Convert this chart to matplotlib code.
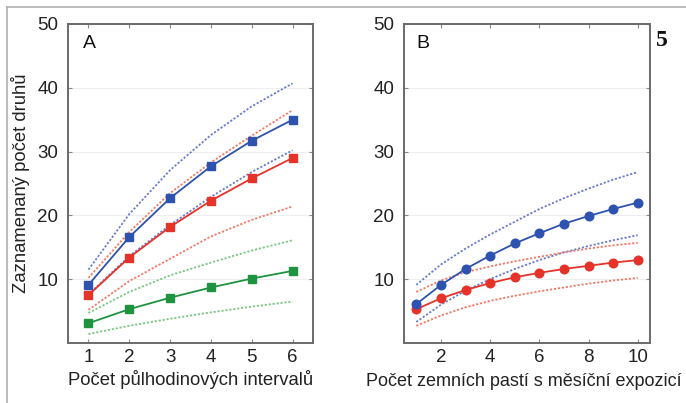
import matplotlib
matplotlib.use("Agg")
import matplotlib.pyplot as plt
from matplotlib.lines import Line2D
from matplotlib.font_manager import FontProperties

plt.rcParams['font.family'] = ['Liberation Sans', 'DejaVu Sans']

# Panel A data
xa = [1, 2, 3, 4, 5, 6]
a_blue = [9.1, 16.6, 22.7, 27.7, 31.7, 35.0]
a_blue_hi = [11.5, 20.2, 27.1, 32.6, 37.1, 40.7]
a_blue_lo = [7.6, 13.6, 18.5, 22.9, 26.8, 30.2]
a_red = [7.5, 13.4, 18.2, 22.3, 25.8, 29.0]
a_red_hi = [10.2, 17.4, 23.5, 28.3, 32.5, 36.5]
a_red_lo = [5.2, 9.7, 13.2, 16.7, 19.3, 21.4]
a_green = [3.1, 5.3, 7.1, 8.7, 10.1, 11.3]
a_green_hi = [4.7, 8.0, 10.6, 12.6, 14.5, 16.1]
a_green_lo = [1.4, 2.7, 3.8, 4.8, 5.7, 6.5]

# Panel B data
xb = [1, 2, 3, 4, 5, 6, 7, 8, 9, 10]
b_blue = [6.1, 9.1, 11.6, 13.7, 15.6, 17.2, 18.7, 19.9, 21.0, 22.0]
b_blue_hi = [9.1, 12.3, 14.8, 17.0, 19.0, 21.0, 22.7, 24.2, 25.6, 26.8]
b_blue_lo = [3.3, 6.0, 8.2, 10.0, 11.6, 13.0, 14.2, 15.2, 16.1, 16.9]
b_red = [5.3, 7.0, 8.3, 9.4, 10.3, 11.0, 11.6, 12.1, 12.6, 13.0]
b_red_hi = [8.0, 9.8, 11.1, 12.0, 12.8, 13.5, 14.2, 14.8, 15.3, 15.7]
b_red_lo = [2.7, 4.3, 5.6, 6.6, 7.4, 8.1, 8.7, 9.3, 9.8, 10.2]

yticks = [10, 20, 30, 40, 50]
xticks_a = [1, 2, 3, 4, 5, 6]
xticks_b = [2, 4, 6, 8, 10]

BLUE = '#2d52b0'
RED = '#e5332a'
GREEN = '#1e9440'
BLUE_D = '#6a7ccc'
RED_D = '#f07a66'
GREEN_D = '#7cc583'

fig = plt.figure(figsize=(6.86, 4.03), dpi=100)
fig.patch.set_facecolor('white')

# figure border lines
fig.add_artist(Line2D([7/686, 7/686], [0, 1-7/403], transform=fig.transFigure, color='#b0b0b0', lw=1.2))
fig.add_artist(Line2D([7/686, 1], [1-7/403, 1-7/403], transform=fig.transFigure, color='#b0b0b0', lw=1.2))

axA = fig.add_axes([68/686, 60/403, 245/686, 319/403])
axB = fig.add_axes([404/686, 60/403, 246/686, 319/403])

def style(ax, xlim, xticks):
    ax.set_xlim(*xlim)
    ax.set_ylim(0, 50)
    ax.set_yticks(yticks)
    ax.set_xticks(xticks)
    ax.tick_params(direction='in', top=True, right=True, length=3, color='#888888',
                   labelsize=13.5, labelcolor='#222222')
    ax.tick_params(axis='y', pad=7)
    ax.tick_params(axis='x', pad=4)
    for s in ax.spines.values():
        s.set_color('#6a6a6a')
        s.set_linewidth(1.4)
    ax.grid(axis='y', color='#eeeeee', lw=0.8)
    ax.set_axisbelow(True)

style(axA, (0.5, 6.5), xticks_a)
style(axB, (0.5, 10.5), xticks_b)

dot = dict(ls=(0, (1.2, 1.0)), lw=1.3)
axA.plot(xa, a_blue_hi, color=BLUE_D, **dot)
axA.plot(xa, a_blue_lo, color=BLUE_D, **dot)
axA.plot(xa, a_red_hi, color=RED_D, **dot)
axA.plot(xa, a_red_lo, color=RED_D, **dot)
axA.plot(xa, a_green_hi, color=GREEN_D, **dot)
axA.plot(xa, a_green_lo, color=GREEN_D, **dot)
axA.plot(xa, a_green, color=GREEN, marker='s', ms=5.8, lw=1.3)
axA.plot(xa, a_red, color=RED, marker='s', ms=5.8, lw=1.3)
axA.plot(xa, a_blue, color=BLUE, marker='s', ms=5.8, lw=1.3)

axB.plot(xb, b_blue_hi, color=BLUE_D, **dot)
axB.plot(xb, b_blue_lo, color=BLUE_D, **dot)
axB.plot(xb, b_red_hi, color=RED_D, **dot)
axB.plot(xb, b_red_lo, color=RED_D, **dot)
axB.plot(xb, b_red, color=RED, marker='o', ms=6.2, lw=1.3)
axB.plot(xb, b_blue, color=BLUE, marker='o', ms=6.2, lw=1.3)

axA.text(0.06, 0.965, 'A', transform=axA.transAxes, fontsize=14, va='top', ha='left', color='#111111')
axB.text(0.05, 0.965, 'B', transform=axB.transAxes, fontsize=14, va='top', ha='left', color='#111111')

axA.set_xlabel('Počet půlhodinových intervalů', fontsize=13.3, color='#222222', labelpad=3)
axB.set_xlabel('Počet zemních pastí s měsíční expozicí', fontsize=13.0, color='#222222', labelpad=4)
axB.xaxis.set_label_coords(0.485, -0.095)
axA.set_ylabel('Zaznamenaný počet druhů', fontsize=13.3, color='#222222', labelpad=5)

fp5 = FontProperties(family=['Liberation Serif', 'DejaVu Serif'], weight='bold', size=17)
fig.text(662/686, 1-40/403, '5', fontproperties=fp5, ha='center', va='center', color='#111111')

fig.savefig('out.png', dpi=100)
